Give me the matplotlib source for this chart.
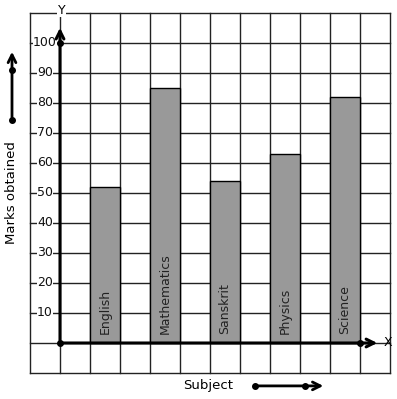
import matplotlib
matplotlib.use('Agg')
import matplotlib.pyplot as plt

subjects = ['English', 'Mathematics', 'Sanskrit', 'Physics', 'Science']
marks = [52, 85, 54, 63, 82]
bar_left = [1, 3, 5, 7, 9]
y_ticks = [10, 20, 30, 40, 50, 60, 70, 80, 90, 100]

fig = plt.figure(figsize=(3.97, 3.99), dpi=100)
ax = fig.add_axes([0, 0, 1, 1])
ax.set_xlim(-2, 337 / 30)
ax.set_ylim(-56 / 3, 343 / 3)
ax.axis('off')

# grid squares
for gx in range(-1, 12):
    ax.plot([gx, gx], [-10, 110], color='#222222', lw=1.0, zorder=1)
for gy in range(-10, 111, 10):
    ax.plot([-1, 11], [gy, gy], color='#222222', lw=1.0, zorder=1)

# bars
ax.bar(bar_left, marks, width=1, align='edge', color='#999999',
       edgecolor='black', linewidth=1.0, zorder=2)
for x, name in zip(bar_left, subjects):
    ax.text(x + 0.5, 3, name, rotation=90, ha='center', va='bottom',
            fontsize=9, color='#222222', zorder=3)

# y tick labels over the grid lines
for t in y_ticks:
    ax.text(-0.5, t, str(t), ha='center', va='center', fontsize=9,
            color='#111111', zorder=3,
            bbox=dict(facecolor='white', edgecolor='none', pad=0.3))

# axes with arrows
ax.annotate('', xy=(0, 106), xytext=(0, 0),
            arrowprops=dict(arrowstyle='->', lw=2.2, color='black',
                            mutation_scale=14), zorder=4)
ax.annotate('', xy=(10.67, 0), xytext=(0, 0),
            arrowprops=dict(arrowstyle='->', lw=2.2, color='black',
                            mutation_scale=14), zorder=4)
ax.plot([0, 0, 10], [0, 100, 0], 'o', color='black', ms=4, zorder=5)
ax.text(0.05, 111, 'Y', ha='center', va='center', fontsize=9,
        zorder=5, bbox=dict(facecolor='white', edgecolor='none', pad=0.3))
ax.text(10.93, 0.3, 'X', ha='center', va='center', fontsize=9, zorder=5)

# axis titles with decorative arrows
ax.text(-1.6, 50, 'Marks obtained', rotation=90, ha='center', va='center',
        fontsize=9.5)
ax.annotate('', xy=(-1.6, 98), xytext=(-1.6, 74.3),
            arrowprops=dict(arrowstyle='->', lw=2.0, color='black',
                            mutation_scale=14))
ax.plot([-1.6, -1.6], [74.3, 91], 'o', color='black', ms=4)

ax.text(4.95, -14, 'Subject', ha='center', va='center', fontsize=9.5)
ax.annotate('', xy=(8.87, -14.3), xytext=(6.5, -14.3),
            arrowprops=dict(arrowstyle='->', lw=2.0, color='black',
                            mutation_scale=14))
ax.plot([6.5, 8.17], [-14.3, -14.3], 'o', color='black', ms=4)

fig.savefig('out.png', dpi=100)
